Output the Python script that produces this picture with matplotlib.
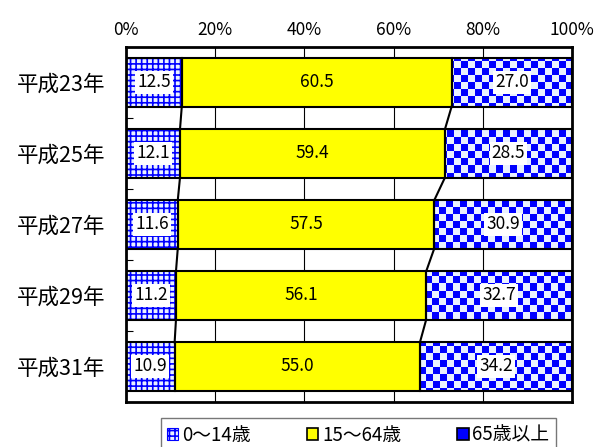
import numpy as np
import matplotlib
matplotlib.use("Agg")
import matplotlib.pyplot as plt
from matplotlib.patches import Patch

plt.rcParams['font.family'] = ['Noto Sans CJK JP', 'DejaVu Sans']
plt.rcParams['hatch.linewidth'] = 1.2

# 年齢3区分別人口構成比（%）
years = ['平成23年', '平成25年', '平成27年', '平成29年', '平成31年']
age_0_14 = [12.5, 12.1, 11.6, 11.2, 10.9]
age_15_64 = [60.5, 59.4, 57.5, 56.1, 55.0]
age_65_over = [27.0, 28.5, 30.9, 32.7, 34.2]
labels = ['0～14歳', '15～64歳', '65歳以上']

BLUE = '#0000ff'
LIGHT = '#eaf1ff'
bar_h = 0.68

fig = plt.figure(figsize=(5.95, 4.47), dpi=100)
ax = fig.add_axes([0.2118, 0.1007, 0.7496, 0.7942])

y = np.arange(len(years))
a = np.array(age_0_14)
b = np.array(age_15_64)
c = np.array(age_65_over)

ax.set_xlim(0, 100)
ax.set_ylim(len(years) - 0.5, -0.5)

bars1 = ax.barh(y, a, height=bar_h, color=LIGHT, edgecolor=BLUE, hatch='+++',
                linewidth=0, zorder=2)
bars2 = ax.barh(y, b, left=a, height=bar_h, color='#ffff00', edgecolor='black',
                linewidth=1.5, zorder=3)
bars3 = ax.barh(y, c, left=a + b, height=bar_h, color='none', edgecolor='black',
                linewidth=1.5, zorder=4)
# outline for the 0-14 segment
ax.barh(y, a, height=bar_h, color='none', edgecolor='black', linewidth=1.5, zorder=4)

# checkerboard fill for 65歳以上, clipped to each bar
ncols, nrows = 64, 51
checker = (np.add.outer(np.arange(nrows), np.arange(ncols)) % 2).astype(float)
cmap = matplotlib.colors.ListedColormap([BLUE, LIGHT])
for r in bars3:
    im = ax.imshow(checker, cmap=cmap, extent=(0, 100, len(years) - 0.5, -0.5),
                   interpolation='nearest', aspect='auto', zorder=2.5)
    im.set_clip_path(r)

# series lines between bars
for i in range(len(years) - 1):
    for cum in (a, a + b):
        ax.plot([cum[i], cum[i + 1]], [i + bar_h / 2, i + 1 - bar_h / 2],
                color='black', linewidth=1.5, zorder=5)

# value labels
for i in range(len(years)):
    ax.text(a[i] / 2, i, f'{a[i]:.1f}', ha='center', va='center', fontsize=12.5,
            zorder=6, bbox=dict(facecolor='white', edgecolor='none', pad=1.5))
    ax.text(a[i] + b[i] / 2, i, f'{b[i]:.1f}', ha='center', va='center',
            fontsize=12.5, zorder=6)
    ax.text(a[i] + b[i] + c[i] / 2, i, f'{c[i]:.1f}', ha='center', va='center',
            fontsize=12.5, zorder=6,
            bbox=dict(facecolor='white', edgecolor='none', pad=1.5))

# axes styling
ax.xaxis.tick_top()
ax.set_xticks(np.arange(0, 101, 20))
ax.set_xticklabels([f'{v}%' for v in range(0, 101, 20)], fontsize=12.5)
ax.tick_params(axis='x', length=0, pad=6)
ax.grid(True, axis='x', color='black', linewidth=0.8, zorder=0)
ax.set_axisbelow(True)

ax.set_yticks(y)
ax.set_yticklabels(years, fontsize=15.5)
ax.tick_params(axis='y', which='major', length=0, pad=15)
ax.set_yticks(np.arange(0.5, len(years) - 0.5, 1), minor=True)
ax.tick_params(axis='y', which='minor', direction='in', length=5, width=0.8)

for s in ax.spines.values():
    s.set_linewidth(2)

handles = [
    Patch(facecolor=LIGHT, edgecolor=BLUE, hatch='+++', linewidth=0.8),
    Patch(facecolor='#ffff00', edgecolor='black', linewidth=1.2),
    Patch(facecolor=BLUE, edgecolor='black', linewidth=1.2),
]
leg = fig.legend(handles, labels, loc='upper center', bbox_to_anchor=(0.602, 0.065),
                 ncol=3, fontsize=13.5, frameon=True, fancybox=False,
                 handlelength=0.6, handleheight=0.6, handletextpad=0.2,
                 columnspacing=3.0, borderpad=0.35, borderaxespad=0)
leg.get_frame().set_edgecolor('#555555')
leg.get_frame().set_linewidth(1)

fig.savefig('out.png', dpi=100)
